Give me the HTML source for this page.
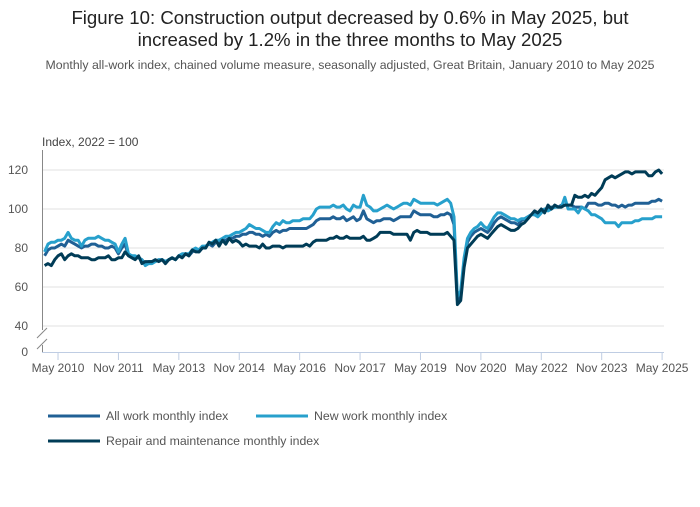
<!DOCTYPE html>
<html><head><meta charset="utf-8"><style>
body{margin:0;background:#fff;font-family:"Liberation Sans",sans-serif;}
svg text{font-family:"Liberation Sans",sans-serif;}
</style></head><body>
<svg id="chart" width="700" height="502" viewBox="0 0 700 502" xmlns="http://www.w3.org/2000/svg">
<text x="350" y="24" text-anchor="middle" font-size="18.6" fill="#222">Figure 10: Construction output decreased by 0.6% in May 2025, but</text>
<text x="350" y="46" text-anchor="middle" font-size="18.6" fill="#222">increased by 1.2% in the three months to May 2025</text>
<text x="350" y="69" text-anchor="middle" font-size="12.3" fill="#555">Monthly all-work index, chained volume measure, seasonally adjusted, Great Britain, January 2010 to May 2025</text>
<text x="42" y="146" font-size="12" fill="#444">Index, 2022 = 100</text>
<g id="grid"></g>
<g id="axes"></g>
<g id="series"></g>
<g id="legend"></g>
</svg>
<script>
const yTicks=[40,60,80,100,120];
const xTickLabels=["May 2010","Nov 2011","May 2013","Nov 2014","May 2016","Nov 2017","May 2019","Nov 2020","May 2022","Nov 2023","May 2025"];
const xTickIndex=[4,22,40,58,76,94,112,130,148,166,184];
const allWork=[76,79,80,80,81,82,81,84,83,82,81,80,
81,81,82,82,81,81,80,80,81,80,77,80,
82,76,76,75,75,74,72,73,73,73,74,74,
73,74,75,74,76,76,77,76,78,79,78,80,
81,82,81,83,83,84,84,85,85,86,86,87,
87,88,88,87,87,86,87,86,88,89,88,89,
89,90,90,90,90,90,90,91,92,94,95,95,
95,95,96,95,95,96,94,95,96,94,95,99,
95,94,93,94,94,95,95,95,94,95,96,96,
96,96,99,98,97,97,97,97,96,96,97,97,
98,97,92,53,56,72,83,86,88,89,90,89,
88,90,93,95,96,95,94,93,93,92,94,95,
96,97,98,97,99,100,100,101,101,101,102,102,
102,102,101,101,101,100,103,103,103,102,102,103,
103,102,102,101,102,101,102,102,103,103,103,103,
103,104,104,105,104];
const newWork=[78,82,83,83,84,84,85,88,85,84,84,81,
84,85,85,85,86,85,84,84,83,82,78,82,
85,77,76,76,75,74,71,72,72,73,74,74,
73,74,75,74,76,77,77,77,79,80,79,81,
81,82,83,84,84,85,86,86,87,88,88,89,
90,92,91,90,90,89,88,88,91,93,92,94,
93,93,94,94,94,95,95,95,97,100,101,101,
101,101,102,101,101,102,100,99,102,101,101,107,
102,101,99,99,100,101,102,101,100,101,102,103,
103,102,105,104,103,103,103,103,103,102,103,104,
105,103,96,55,58,75,85,88,90,91,93,91,
90,93,96,98,98,97,96,95,95,94,95,95,
96,97,97,96,98,100,99,100,101,101,101,106,
100,100,100,98,101,100,99,97,97,96,95,93,
93,93,93,91,93,93,93,93,94,94,95,95,
95,95,96,96,96];
const repairMaint=[71,72,71,74,76,77,74,76,77,76,76,75,
75,75,74,74,75,75,75,76,74,74,75,75,
78,76,75,74,76,72,73,73,73,74,73,74,
72,74,75,74,76,75,77,76,79,78,78,80,
80,83,82,84,81,84,82,85,83,84,83,81,
82,81,81,81,80,82,80,80,81,81,81,80,
81,81,81,81,81,81,82,81,83,84,84,84,
84,85,85,86,85,85,86,85,85,85,85,86,
84,84,85,86,88,88,88,88,87,87,87,87,
87,84,88,89,88,88,88,87,87,87,87,87,
88,86,84,51,53,70,80,82,84,86,87,86,
85,87,89,91,92,91,90,89,89,90,92,93,
95,97,99,98,100,98,102,100,102,101,101,102,
102,102,107,106,106,107,106,108,107,109,111,115,
116,117,116,117,118,119,119,118,119,119,119,119,
117,117,119,120,118];
const seriesNames=["All work monthly index","New work monthly index","Repair and maintenance monthly index"];
const seriesColors=["#206095","#27a0cc","#003c57"];

const NS="http://www.w3.org/2000/svg";
const X0=44.6, DX=3.356;
function xs(i){return X0+DX*i;}
function ys(v){return 209-(v-100)*1.95;}
function mk(tag,attrs,parent){const e=document.createElementNS(NS,tag);for(const k in attrs)e.setAttribute(k,attrs[k]);parent.appendChild(e);return e;}
const grid=document.getElementById('grid'),axes=document.getElementById('axes'),ser=document.getElementById('series'),leg=document.getElementById('legend');
yTicks.forEach(t=>{
 const l=mk('line',{x1:42,x2:664,y1:ys(t),y2:ys(t),stroke:'#e2e2e2','stroke-width':1},grid);
 
 
 const tx=mk('text',{x:28,y:ys(t)+4,'text-anchor':'end','font-size':12,fill:'#555'},grid);tx.textContent=t;
 
 
});
const z=mk('text',{x:28,y:356,'text-anchor':'end','font-size':12,fill:'#555'},axes);z.textContent='0';


const ya=mk('line',{x1:42.5,x2:42.5,y1:150,y2:330,stroke:'#888','stroke-width':1},axes);


const br=mk('path',{d:'M37,338 L47,328 M37,349 L47,339 M42.5,345 L42.5,352',stroke:'#888','stroke-width':1,fill:'none'},axes);


const xa=mk('line',{x1:42,x2:664,y1:352.5,y2:352.5,stroke:'#bfcde3','stroke-width':1},axes);


xTickLabels.forEach((lab,k)=>{
 const x=xs(xTickIndex[k]);
 const tk=mk('line',{x1:x,x2:x,y1:352,y2:360,stroke:'#bfcde3','stroke-width':1},axes);
 
 
 const t=mk('text',{x:x,y:372,'text-anchor':'middle','font-size':12,fill:'#555'},axes);t.textContent=lab;
 
 
});
[allWork,newWork,repairMaint].forEach((arr,s)=>{
 const d=arr.map((v,i)=>(i?'L':'M')+xs(i).toFixed(1)+','+ys(v).toFixed(1)).join(' ');
 const p=mk('path',{d:d,fill:'none',stroke:seriesColors[s],'stroke-width':3,'stroke-linejoin':'round'},ser);
 
 
});
const legPos=[[48,416],[256,416],[48,441]];
seriesNames.forEach((n,s)=>{
 const [x,y]=legPos[s];
 const l=mk('line',{x1:x,x2:x+52,y1:y,y2:y,stroke:seriesColors[s],'stroke-width':3},leg);
 
 
 const t=mk('text',{x:x+58,y:y+4,'font-size':12.3,fill:'#555'},leg);t.textContent=n;
 
 
});
</script>
</body></html>
